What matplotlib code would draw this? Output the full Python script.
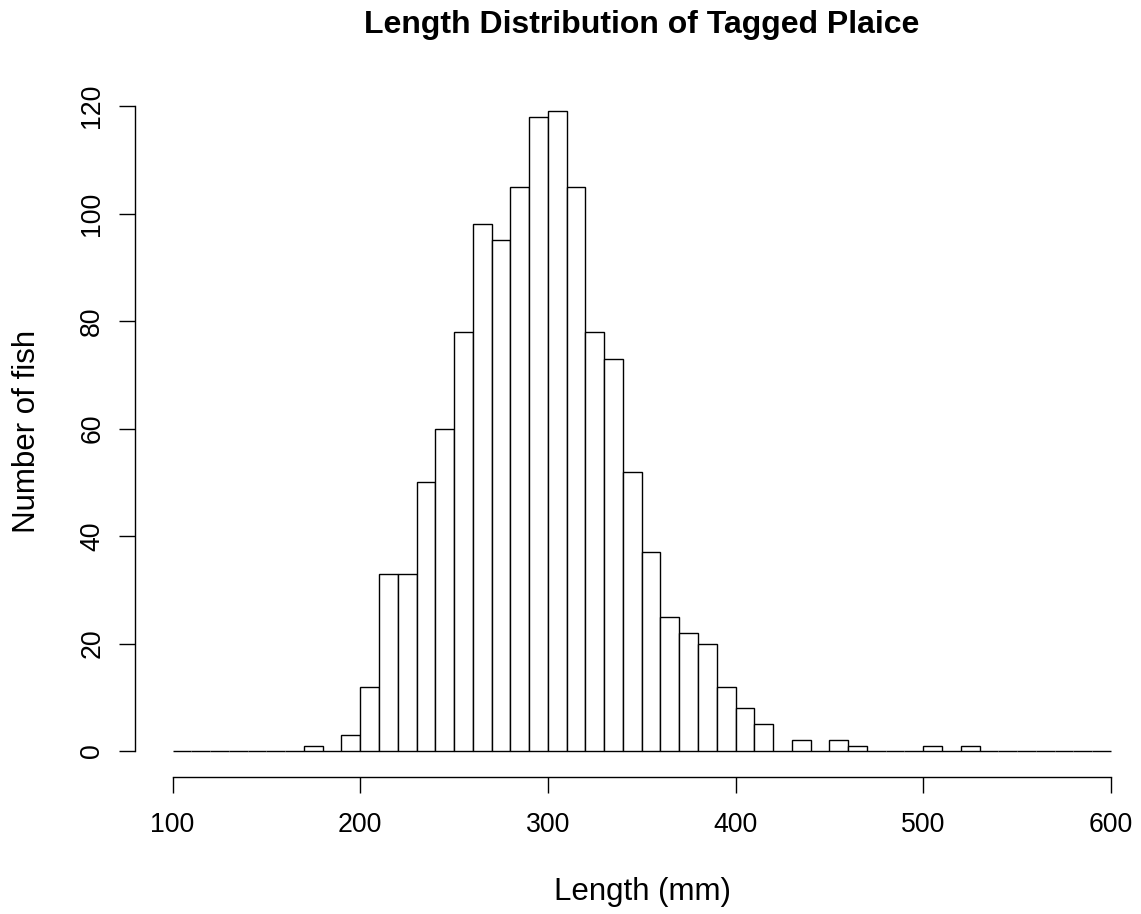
import matplotlib.pyplot as plt

plt.rcParams["font.family"] = ["Liberation Sans", "DejaVu Sans"]

# histogram breaks (mm) and counts per 10 mm bin
length_breaks = [100, 110, 120, 130, 140, 150, 160, 170, 180, 190,
                 200, 210, 220, 230, 240, 250, 260, 270, 280, 290,
                 300, 310, 320, 330, 340, 350, 360, 370, 380, 390,
                 400, 410, 420, 430, 440, 450, 460, 470, 480, 490,
                 500, 510, 520, 530, 540, 550, 560, 570, 580, 590, 600]
fish_counts = [0, 0, 0, 0, 0, 0, 0, 1, 0, 3,
               12, 33, 33, 50, 60, 78, 98, 95, 105, 118,
               119, 105, 78, 73, 52, 37, 25, 22, 20, 12,
               8, 5, 0, 2, 0, 2, 1, 0, 0, 0,
               1, 0, 1, 0, 0, 0, 0, 0, 0, 0]
x_ticks = [100, 200, 300, 400, 500, 600]
y_ticks = [0, 20, 40, 60, 80, 100, 120]

W, H = 1141, 914
fig = plt.figure(figsize=(W / 100, H / 100), dpi=100)
# plot region in pixels, R style 4% padding around the data range
left, right, top, bottom = 135, 1148.4, 85.8, 776.6
ax = fig.add_axes([left / W, 1 - bottom / H, (right - left) / W, (bottom - top) / H])

lefts = length_breaks[:-1]
widths = [b - a for a, b in zip(length_breaks[:-1], length_breaks[1:])]
ax.bar(lefts, fish_counts, width=widths, align="edge",
       facecolor="white", edgecolor="black", linewidth=1.0)

xmin, xmax = length_breaks[0], length_breaks[-1]
ymax = max(fish_counts)
ax.set_xlim(xmin - 0.04 * (xmax - xmin), xmax + 0.04 * (xmax - xmin))
ax.set_ylim(-0.04 * ymax, ymax * 1.04)

for side in ("top", "right"):
    ax.spines[side].set_visible(False)
ax.spines["bottom"].set_bounds(x_ticks[0], x_ticks[-1])
ax.spines["left"].set_bounds(y_ticks[0], y_ticks[-1])
for side in ("bottom", "left"):
    ax.spines[side].set_linewidth(1.0)

ax.set_xticks(x_ticks)
ax.set_yticks(y_ticks)
ax.tick_params(direction="out", length=11.5, width=1.0, labelsize=19.2)
ax.tick_params(axis="x", pad=14)
ax.tick_params(axis="y", pad=10, labelrotation=90)
for lbl in ax.get_yticklabels():
    lbl.set_verticalalignment("center")

# title and axis labels placed by baseline, centred on the plot region
fig.text(642 / W, 1 - 33 / H, "Length Distribution of Tagged Plaice",
         ha="center", va="baseline", fontsize=23, fontweight="bold")
fig.text(642 / W, 1 - 900 / H, "Length (mm)", ha="center", va="baseline", fontsize=22.5)
fig.text(35 / W, 1 - 431 / H, "Number of fish", ha="center", va="baseline",
         rotation=90, rotation_mode="anchor", fontsize=22.5)

fig.savefig("out.png", dpi=100)
